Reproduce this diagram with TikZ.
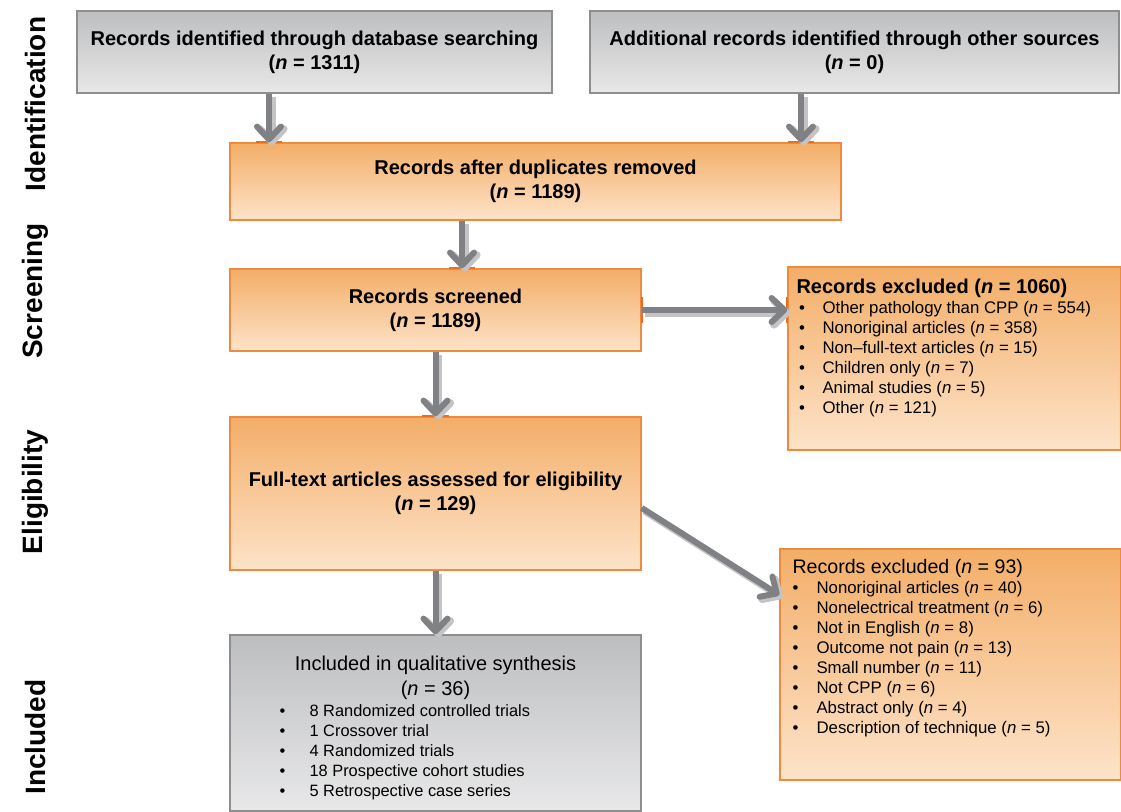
\documentclass[tikz,border=0pt]{standalone}
\usepackage{fontspec}
\setmainfont{Liberation Sans}
\usetikzlibrary{arrows.meta,calc}
\definecolor{greyline}{HTML}{8E8E8E}
\definecolor{greytop}{HTML}{BDBEC0}
\definecolor{greybot}{HTML}{E8E8E9}
\definecolor{orline}{HTML}{EE8A3E}
\definecolor{ortop}{HTML}{F3AE68}
\definecolor{orbot}{HTML}{FDE3C9}
\definecolor{orsite}{HTML}{E86F1C}
\definecolor{arrgrey}{HTML}{808184}
\definecolor{shadowgrey}{HTML}{C4C4C6}
\newcommand{\bul}[1]{\makebox[#1][l]{\textbullet}}

\begin{document}
\begin{tikzpicture}[
  x=0.75pt,y=-0.75pt,
  greybox/.style={draw=greyline,line width=1.1pt,top color=greytop,bottom color=greybot,inner sep=0pt,align=center,font=\fontsize{15}{18}\selectfont\bfseries},
  orbox/.style={greybox,draw=orline,top color=ortop,bottom color=orbot},
  listtext/.style={inner sep=0pt,align=left,anchor=north west,font=\fontsize{12.6}{15}\selectfont},
  phase/.style={rotate=90,inner sep=0pt,font=\fontsize{21}{24}\selectfont\bfseries},
  arr/.style={arrgrey,line width=4.5pt,-{Straight Barb[length=9.5pt,width=18pt,round]},
    preaction={draw=shadowgrey,line width=5.5pt,transform canvas={shift={(2.2pt,-2.2pt)}}}},
  site/.style={orsite,line width=1.6pt}]
  \useasboundingbox (0,0) rectangle (1121,811);
  % phases
  \node[phase] (lblid) at (35,104) {Identification};
  \node[phase] (lblscr) at (35,291) {Screening};
  \node[phase] (lblelig) at (35,492) {Eligibility};
  \node[phase] (lblinc) at (35,737) {Included};
  % boxes
  \node[greybox,minimum width=356.25pt,minimum height=61.5pt] (db) at (314.5,52) {Records identified through database searching\\(\textit{n} = 1311)};
  \node[greybox,minimum width=396.75pt,minimum height=61.5pt] (other) at (854.5,52) {Additional records identified through other sources\\(\textit{n} = 0)};
  \node[orbox,minimum width=458.25pt,minimum height=57.75pt] (dup) at (535.5,181.5) {Records after duplicates removed\\(\textit{n} = 1189)};
  \node[orbox,minimum width=308.25pt,minimum height=61.5pt] (scr) at (435.5,310) {Records screened\\(\textit{n} = 1189)};
  \node[orbox,minimum width=308.25pt,minimum height=114.75pt] (elig) at (435.5,493.5) {Full-text articles assessed for eligibility\\(\textit{n} = 129)};
  \node[greybox,minimum width=308.25pt,minimum height=132pt] (incl) at (435.5,723) {};
  \node[orbox,minimum width=249.75pt,minimum height=137.25pt] (ex1) at (954.5,358.5) {};
  \node[orbox,minimum width=255.75pt,minimum height=173.25pt] (ex2) at (950.5,664.5) {};
  % box texts
  \node[listtext] (ex1txt) at ($(ex1.north west)+(9,12)$) {{\fontsize{15}{18}\selectfont\bfseries Records excluded (\textit{n} = 1060)}\\
    \hspace*{2pt}\bul{17.5pt}Other pathology than CPP (\textit{n} = 554)\\
    \hspace*{2pt}\bul{17.5pt}Nonoriginal articles (\textit{n} = 358)\\
    \hspace*{2pt}\bul{17.5pt}Non--full-text articles (\textit{n} = 15)\\
    \hspace*{2pt}\bul{17.5pt}Children only (\textit{n} = 7)\\
    \hspace*{2pt}\bul{17.5pt}Animal studies (\textit{n} = 5)\\
    \hspace*{2pt}\bul{17.5pt}Other (\textit{n} = 121)};
  \node[listtext] (ex2txt) at ($(ex2.north west)+(13,11)$) {{\fontsize{14.7}{18}\selectfont Records excluded (\textit{n} = 93)}\\
    \bul{18pt}Nonoriginal articles (\textit{n} = 40)\\
    \bul{18pt}Nonelectrical treatment (\textit{n} = 6)\\
    \bul{18pt}Not in English (\textit{n} = 8)\\
    \bul{18pt}Outcome not pain (\textit{n} = 13)\\
    \bul{18pt}Small number (\textit{n} = 11)\\
    \bul{18pt}Not CPP (\textit{n} = 6)\\
    \bul{18pt}Abstract only (\textit{n} = 4)\\
    \bul{18pt}Description of technique (\textit{n} = 5)};
  \node[inner sep=0pt,anchor=north,align=center,font=\fontsize{15}{18.75}\selectfont] (incltitle) at ($(incl.north)+(0,21)$) {Included in qualitative synthesis\\(\textit{n} = 36)};
  \node[listtext,font=\fontsize{12.3}{15}\selectfont] (incltxt) at ($(incl.north west)+(50,70)$) {\bul{22.5pt}8 Randomized controlled trials\\
    \bul{22.5pt}1 Crossover trial\\
    \bul{22.5pt}4 Randomized trials\\
    \bul{22.5pt}18 Prospective cohort studies\\
    \bul{22.5pt}5 Retrospective case series};
  % connectors
  \coordinate (dbout) at ($(db.south)+(-45.5,0)$);
  \coordinate (othout) at ($(other.south)+(-53.5,0)$);
  \coordinate (dupout) at ($(dup.south)+(-73.5,0)$);
  \coordinate (eligout) at ($(elig.east)+(0,14.5)$);
  \coordinate (ex2in) at ($(ex2.west)+(0,-69.5)$);
  \draw[site] ([xshift=-10pt]dbout |- dup.north) -- ([xshift=10pt]dbout |- dup.north);
  \draw[site] ([xshift=-10pt]othout |- dup.north) -- ([xshift=10pt]othout |- dup.north);
  \draw[site] ([xshift=-10pt]dupout |- scr.north) -- ([xshift=10pt]dupout |- scr.north);
  \draw[site] ([xshift=-10pt]elig.north) -- ([xshift=10pt]elig.north);
  \draw[site] ([yshift=-10pt]scr.east) -- ([yshift=10pt]scr.east);
  \draw[site] ([yshift=-10pt]scr.east -| ex1.west) -- ([yshift=10pt]scr.east -| ex1.west);
  \draw[arr] (dbout) -- (dbout |- dup.north);
  \draw[arr] (othout) -- (othout |- dup.north);
  \draw[arr] (dupout) -- (dupout |- scr.north);
  \draw[arr] (scr.south) -- (elig.north);
  \draw[arr] (scr.east) -- (scr.east -| ex1.west);
  \draw[arr] (eligout) -- (ex2in);
  \draw[arr] (elig.south) -- (incl.north);
\end{tikzpicture}
\end{document}
